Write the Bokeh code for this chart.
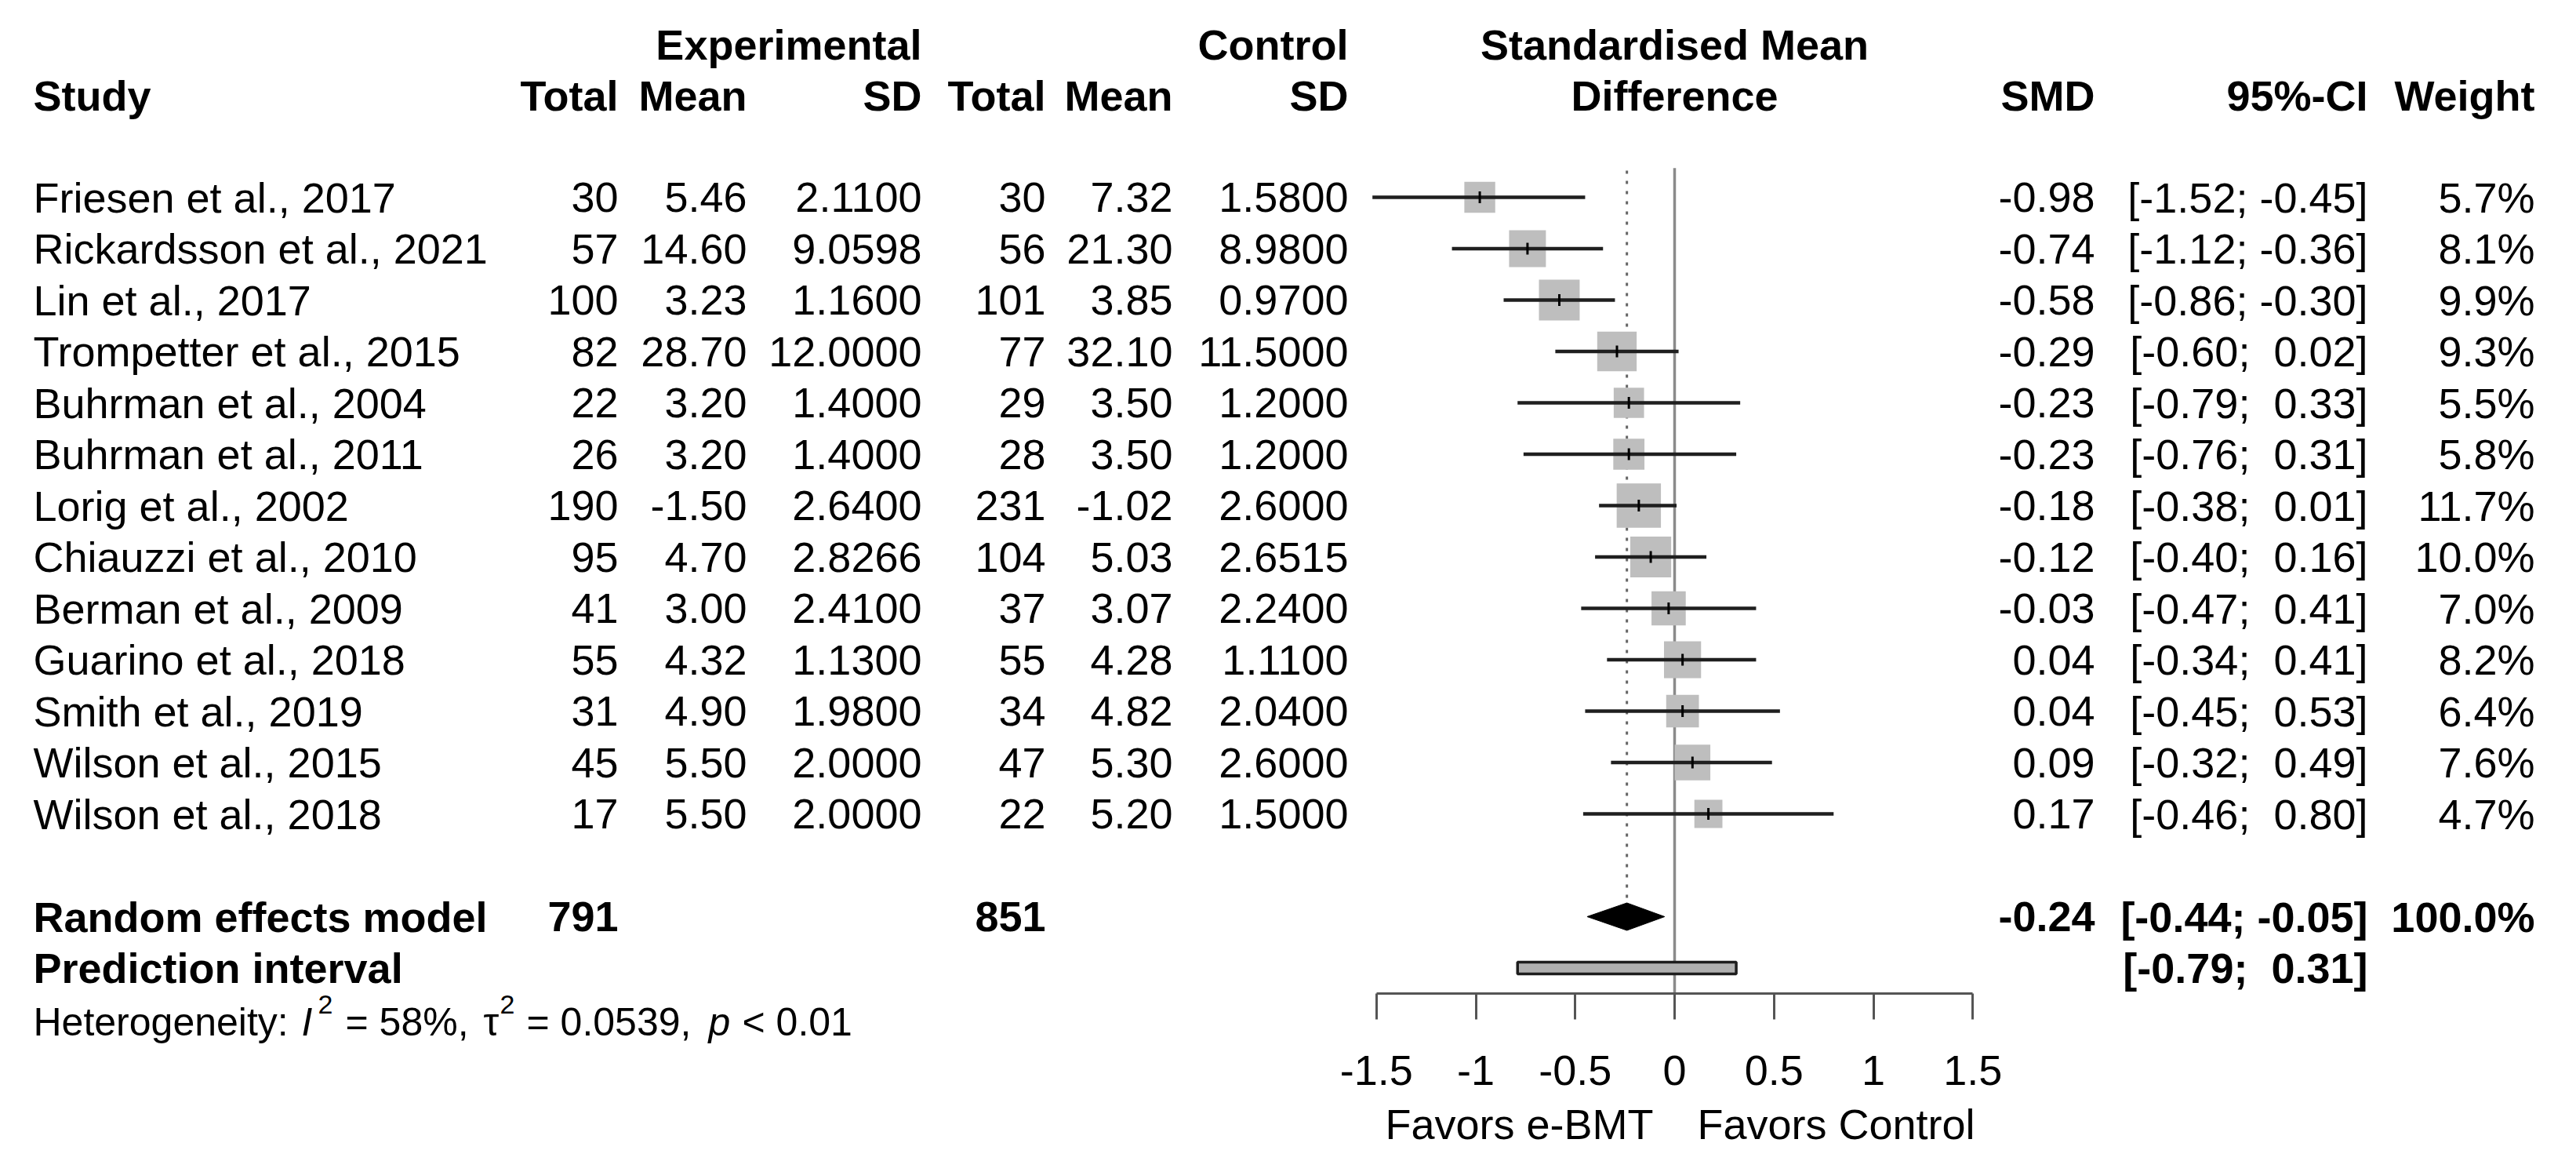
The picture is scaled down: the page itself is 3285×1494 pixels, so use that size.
import math
from bokeh.plotting import figure
from bokeh.models import Range1d, LinearAxis, FixedTicker, PrintfTickFormatter
from bokeh.core.properties import value
from bokeh.embed import file_html
from bokeh.resources import INLINE

# ---------------- data ----------------
studies = ["Friesen et al., 2017", "Rickardsson et al., 2021", "Lin et al., 2017",
           "Trompetter et al., 2015", "Buhrman et al., 2004", "Buhrman et al., 2011",
           "Lorig et al., 2002", "Chiauzzi et al., 2010", "Berman et al., 2009",
           "Guarino et al., 2018", "Smith et al., 2019", "Wilson et al., 2015",
           "Wilson et al., 2018"]
exp_total = [30, 57, 100, 82, 22, 26, 190, 95, 41, 55, 31, 45, 17]
exp_mean = [5.46, 14.60, 3.23, 28.70, 3.20, 3.20, -1.50, 4.70, 3.00, 4.32, 4.90, 5.50, 5.50]
exp_sd = [2.1100, 9.0598, 1.1600, 12.0000, 1.4000, 1.4000, 2.6400, 2.8266, 2.4100, 1.1300,
          1.9800, 2.0000, 2.0000]
ctl_total = [30, 56, 101, 77, 29, 28, 231, 104, 37, 55, 34, 47, 22]
ctl_mean = [7.32, 21.30, 3.85, 32.10, 3.50, 3.50, -1.02, 5.03, 3.07, 4.28, 4.82, 5.30, 5.20]
ctl_sd = [1.5800, 8.9800, 0.9700, 11.5000, 1.2000, 1.2000, 2.6000, 2.6515, 2.2400, 1.1100,
          2.0400, 2.6000, 1.5000]
smd = [-0.98, -0.74, -0.58, -0.29, -0.23, -0.23, -0.18, -0.12, -0.03, 0.04, 0.04, 0.09, 0.17]
ci_lower = [-1.52, -1.12, -0.86, -0.60, -0.79, -0.76, -0.38, -0.40, -0.47, -0.34, -0.45, -0.32, -0.46]
ci_upper = [-0.45, -0.36, -0.30, 0.02, 0.33, 0.31, 0.01, 0.16, 0.41, 0.41, 0.53, 0.49, 0.80]
weight = [5.7, 8.1, 9.9, 9.3, 5.5, 5.8, 11.7, 10.0, 7.0, 8.2, 6.4, 7.6, 4.7]

re_total_exp = 791
re_total_ctl = 851
re_smd = -0.24
re_lower = -0.44
re_upper = -0.05
re_weight = 100.0
pi_lower = -0.79
pi_upper = 0.31
het_i2 = "58%"
het_tau2 = "0.0539"
het_p = "< 0.01"

axis_ticks = [-1.5, -1.0, -0.5, 0.0, 0.5, 1.0, 1.5]
label_left = "Favors e-BMT"
label_right = "Favors Control"

# ---------------- layout ----------------
W, H = 3269, 1478
FONT = "Liberation Sans"
FS = "54px"
ROW0_PX, ROW_PX = 259.0, 65.5          # page pixel of first study row, row pitch
ZERO_PX, UNIT_PX = 2143.0, 253.5       # page pixel of SMD 0, pixels per SMD unit
NBSP = "\u00a0"

n = len(studies)
rows = list(range(n))
row_re = n + 1
row_pi = n + 2
row_het = n + 3.05
row_hdr1, row_hdr2 = -2.97, -1.98

X_STUDY = 50
X_ETOT, X_EMEAN, X_ESD = 796, 960, 1183
X_CTOT, X_CMEAN, X_CSD = 1341, 1503, 1727
X_SMD, X_CI, X_W = 2679, 3027, 3240

def fmt_ci(lo, hi):
    lo_s = f"{lo:.2f}" if lo < 0 else NBSP + f"{lo:.2f}"
    hi_s = f"{hi:.2f}" if hi < 0 else NBSP + f"{hi:.2f}"
    return f"[{lo_s};{NBSP}{hi_s}]"

p = figure(width=W, height=H, output_backend="svg", toolbar_location=None,
           x_axis_type=None, y_axis_type=None, min_border=0,
           x_range=Range1d(8, 8 + W),
           y_range=Range1d((8 + H - ROW0_PX) / ROW_PX, (8 - ROW0_PX) / ROW_PX))
p.outline_line_color = None
p.background_fill_color = "white"
p.extra_x_ranges = {"smd": Range1d((8 - ZERO_PX) / UNIT_PX, (8 + W - ZERO_PX) / UNIT_PX)}

def txt(xs, ys, texts, align, bold=False, size=FS, rng="default", style=None, xoff=0, yoff=0):
    st = style if style else ("bold" if bold else "normal")
    p.text(x=xs, y=ys, text=texts, text_align=align, text_baseline="middle",
           text_font=value(FONT), text_font_size=value(size), text_font_style=st,
           text_color="black", x_range_name=rng, x_offset=xoff, y_offset=yoff)

# headers
txt([X_ESD], [row_hdr1], ["Experimental"], "right", bold=True)
txt([X_CSD], [row_hdr1], ["Control"], "right", bold=True)
txt([0], [row_hdr1], ["Standardised Mean"], "center", bold=True, rng="smd")
txt([X_STUDY], [row_hdr2], ["Study"], "left", bold=True)
txt([X_ETOT, X_CTOT], [row_hdr2] * 2, ["Total", "Total"], "right", bold=True)
txt([X_EMEAN, X_CMEAN], [row_hdr2] * 2, ["Mean", "Mean"], "right", bold=True)
txt([X_ESD, X_CSD], [row_hdr2] * 2, ["SD", "SD"], "right", bold=True)
txt([0], [row_hdr2], ["Difference"], "center", bold=True, rng="smd")
txt([X_SMD], [row_hdr2], ["SMD"], "right", bold=True)
txt([X_CI], [row_hdr2], ["95%-CI"], "right", bold=True)
txt([X_W], [row_hdr2], ["Weight"], "right", bold=True)

# study rows
txt([X_STUDY] * n, rows, studies, "left")
txt([X_ETOT] * n, rows, [str(v) for v in exp_total], "right")
txt([X_EMEAN] * n, rows, [f"{v:.2f}" for v in exp_mean], "right")
txt([X_ESD] * n, rows, [f"{v:.4f}" for v in exp_sd], "right")
txt([X_CTOT] * n, rows, [str(v) for v in ctl_total], "right")
txt([X_CMEAN] * n, rows, [f"{v:.2f}" for v in ctl_mean], "right")
txt([X_CSD] * n, rows, [f"{v:.4f}" for v in ctl_sd], "right")
txt([X_SMD] * n, rows, [f"{v:.2f}" for v in smd], "right")
txt([X_CI] * n, rows, [fmt_ci(a, b) for a, b in zip(ci_lower, ci_upper)], "right")
txt([X_W] * n, rows, [f"{v:.1f}%" for v in weight], "right")

# summary rows
txt([X_STUDY], [row_re], ["Random effects model"], "left", bold=True)
txt([X_ETOT], [row_re], [str(re_total_exp)], "right", bold=True)
txt([X_CTOT], [row_re], [str(re_total_ctl)], "right", bold=True)
txt([X_SMD], [row_re], [f"{re_smd:.2f}"], "right", bold=True)
txt([X_CI], [row_re], [fmt_ci(re_lower, re_upper)], "right", bold=True)
txt([X_W], [row_re], [f"{re_weight:.1f}%"], "right", bold=True)
txt([X_STUDY], [row_pi], ["Prediction interval"], "left", bold=True)
txt([X_CI], [row_pi], [fmt_ci(pi_lower, pi_upper)], "right", bold=True)

# heterogeneity line (mixed styles, raised superscripts)
HS = "50px"
SUP = "34px"
txt([X_STUDY], [row_het], ["Heterogeneity:"], "left", size=HS)
txt([392], [row_het], ["I"], "left", size=HS, style="italic")
txt([413], [row_het], ["2"], "left", size=SUP, yoff=-22)
txt([448], [row_het], [f"= {het_i2},"], "left", size=HS)
txt([624], [row_het], ["\u03c4"], "left", size=HS)
txt([645], [row_het], ["2"], "left", size=SUP, yoff=-22)
txt([679], [row_het], [f"= {het_tau2},"], "left", size=HS)
txt([911], [row_het], ["p"], "left", size=HS, style="italic")
txt([954], [row_het], [het_p], "left", size=HS)

# ---------------- forest graphics ----------------
top_line = -0.57
axis_row = row_pi + 0.5
# zero line
p.segment(x0=[0], y0=[top_line], x1=[0], y1=[axis_row], x_range_name="smd",
          line_color="#8a8a8a", line_width=3.5)
# summary estimate dotted line
diamond_half = 17.5 / ROW_PX
p.segment(x0=[re_smd], y0=[top_line + 0.05], x1=[re_smd], y1=[row_re - diamond_half],
          x_range_name="smd", line_color="#666666", line_width=3, line_dash="4 9")

# squares
sides = [16.5 * math.sqrt(w) for w in weight]
p.rect(x=smd, y=rows, width=sides, height=sides, width_units="screen", height_units="screen",
       fill_color="#bebebe", line_color=None, x_range_name="smd")
# CI lines
p.segment(x0=ci_lower, y0=rows, x1=ci_upper, y1=rows, x_range_name="smd",
          line_color="#1f1f1f", line_width=4.5)
# estimate ticks
p.scatter(x=smd, y=rows, marker="dash", angle=math.pi / 2, size=15, line_color="black",
          line_width=3, x_range_name="smd")

# diamond
p.patch(x=[re_lower, re_smd, re_upper, re_smd],
        y=[row_re, row_re - diamond_half, row_re, row_re + diamond_half],
        fill_color="black", line_color="black", line_width=1, x_range_name="smd")
# prediction interval
pi_half = 7.5 / ROW_PX
p.quad(left=[pi_lower], right=[pi_upper], top=[row_pi - pi_half], bottom=[row_pi + pi_half],
       fill_color="#b0b0b0", line_color="#1e1e1e", line_width=3.5, x_range_name="smd")

# x axis
ax = LinearAxis(x_range_name="smd", fixed_location=axis_row,
                ticker=FixedTicker(ticks=axis_ticks),
                formatter=PrintfTickFormatter(format="%g"),
                bounds=(min(axis_ticks), max(axis_ticks)))
ax.axis_line_color = "#555555"
ax.axis_line_width = 3
ax.major_tick_line_color = "#555555"
ax.major_tick_line_width = 3
ax.major_tick_out = 33
ax.major_tick_in = 0
ax.minor_tick_line_color = None
ax.major_label_text_font = FONT
ax.major_label_text_font_size = FS
ax.major_label_text_color = "black"
ax.major_label_standoff = 46
p.add_layout(ax, "below")

# axis side labels
lab_row = (1440 - ROW0_PX) / ROW_PX
txt([0], [lab_row], [label_left], "right", rng="smd", xoff=-27)
txt([0], [lab_row], [label_right], "left", rng="smd", xoff=29)

open("out.html", "w").write(file_html(p, INLINE))
